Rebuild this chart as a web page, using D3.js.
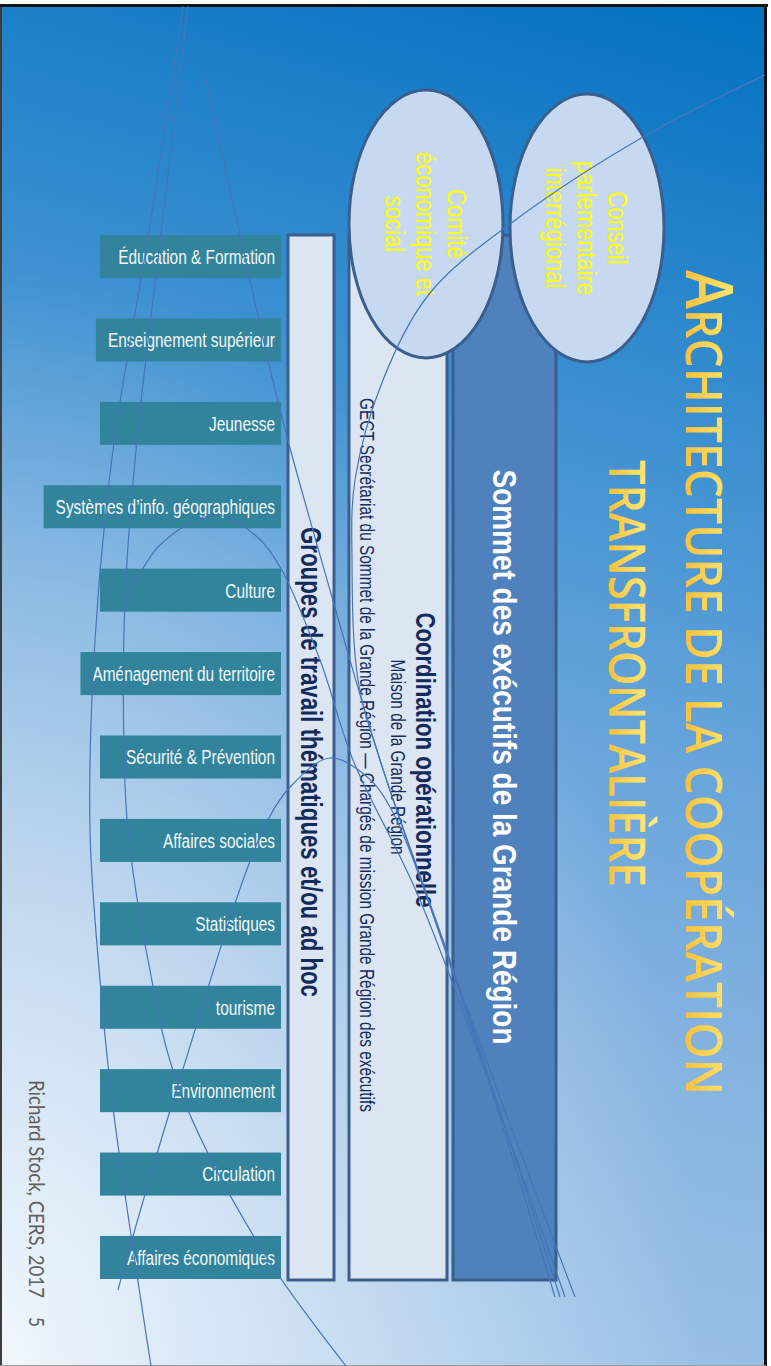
<!DOCTYPE html>
<html>
<head>
<meta charset="utf-8">
<script src="https://cdn.jsdelivr.net/npm/d3@7/dist/d3.min.js"></script>
<style>
  body { margin: 0; background: #fff; }
  svg { display: block; }
</style>
</head>
<body>
<svg class="slide"></svg>
<script>
/* Architecture de la coopération transfrontalière (slide turned 90°) */
const width = 771, height = 1366

const titleLines = ["Architecture de la coopération", "transfrontalière"]

const groupes = ["Éducation & Formation", "Enseignement supérieur", "Jeunesse",
    "Systèmes d’info. géographiques", "Culture", "Aménagement du territoire",
    "Sécurité & Prévention", "Affaires sociales", "Statistiques", "tourisme",
    "Environnement", "Circulation", "Affaires économiques"]

const colonnes = ["Groupes de travail thématiques et/ou ad hoc",
    "Coordination opérationnelle",
    "Sommet des exécutifs de la Grande Région"]

const coordination = ["Maison de la Grande Région",
    "GECT Secrétariat du Sommet de la Grande Région — Chargés de mission Grande Région des exécutifs"]

const comite = ["Comité", "économique et", "social"]
const conseil = ["Conseil", "parlementaire", "interrégional"]

const credit = ["Richard Stock, CERS, 2017", "5"]

// thin curves of the theme background
const flowLines = [
    [[183, 6], [150, 225], [113, 450], [95, 640], [90, 830], [100, 980], [112, 1100], [151, 1366]],
    [[188, 6], [162, 225], [136, 450], [125, 600], [124, 750], [128, 830], [148, 960], [178, 1085], [262, 1250], [346, 1366]],
    [[205, 75], [246, 262], [280, 410], [330, 590], [380, 760], [455, 975], [560, 1297]],
    [[118, 1290], [131, 1243], [178, 1085], [263, 830], [292, 785], [330, 758], [365, 775], [390, 807], [453, 973], [555, 1297]],
    [[125, 603], [160, 545], [215, 515], [255, 535], [280, 567], [320, 660], [353, 760], [420, 900], [565, 1297]],
    [[765, 75], [643, 137], [510, 224], [430, 293], [383, 380], [355, 480], [352, 560], [358, 680], [380, 760], [455, 975], [575, 1297]]
]

const svg = d3.select("svg.slide")
    .attr("width", width)
    .attr("height", height)

const defs = svg.append("defs")

const bg = defs.append("linearGradient").attr("id", "bg")
    .attr("gradientUnits", "userSpaceOnUse")
    .attr("x1", 771).attr("y1", 0).attr("x2", 400).attr("y2", 1366)
bg.selectAll("stop")
    .data([[0, "#0070c0"], [0.3, "#3a8fd0"], [0.51, "#63a3da"], [0.73, "#85b3e0"], [1, "#9ec4e8"]])
    .enter().append("stop")
    .attr("offset", d => d[0])
    .attr("stop-color", d => d[1])

const glow = defs.append("radialGradient").attr("id", "glow")
    .attr("gradientUnits", "userSpaceOnUse")
    .attr("cx", 0).attr("cy", 0).attr("r", 1)
    .attr("gradientTransform", "translate(0,1366) scale(700,1100)")
glow.selectAll("stop")
    .data([[0, 0.85], [1, 0]])
    .enter().append("stop")
    .attr("offset", d => d[0])
    .attr("stop-color", "#ffffff")
    .attr("stop-opacity", d => d[1])

const gold = defs.append("linearGradient").attr("id", "gold")
    .attr("x1", 0).attr("y1", 0).attr("x2", 0).attr("y2", 1)
gold.selectAll("stop")
    .data([[0, "#fff68a"], [0.5, "#fdd65a"], [1, "#f4b02a"]])
    .enter().append("stop")
    .attr("offset", d => d[0])
    .attr("stop-color", d => d[1])

// background + frame
svg.append("rect").attr("x", 1).attr("y", 5).attr("width", 765).attr("height", 1360).attr("fill", "url(#bg)")
svg.append("rect").attr("x", 1).attr("y", 5).attr("width", 765).attr("height", 1360).attr("fill", "url(#glow)")
svg.append("line").attr("x1", 1).attr("x2", 1).attr("y1", 5).attr("y2", 1366).attr("stroke", "#3d3d3d").attr("stroke-width", 2)
svg.append("line").attr("x1", 0).attr("x2", 768).attr("y1", 5.5).attr("y2", 5.5).attr("stroke", "#111").attr("stroke-width", 3)
svg.append("line").attr("x1", 765.5).attr("x2", 765.5).attr("y1", 5).attr("y2", 1366).attr("stroke", "#111").attr("stroke-width", 3)
svg.append("line").attr("x1", 0).attr("x2", 766).attr("y1", 1365.5).attr("y2", 1365.5).attr("stroke", "#9a9a9a").attr("stroke-width", 1)

const sans = "'Liberation Sans', Arial, sans-serif"
const narrow = 0.77

// title, read top to bottom
const title = svg.append("g").attr("fill", "url(#gold)")
    .attr("font-family", "'Open Sans', Lato, sans-serif")
    .attr("font-weight", 600)

const t1 = title.append("text")
    .attr("transform", "translate(686,682.5) rotate(90)")
    .attr("text-anchor", "middle")
    .attr("textLength", 825)
    .attr("lengthAdjust", "spacingAndGlyphs")
const up1 = titleLines[0].toUpperCase()
t1.append("tspan").attr("font-size", 65).text(up1[0])
t1.append("tspan").attr("font-size", 51).text(up1.slice(1))

title.append("text")
    .attr("transform", "translate(609,673.5) rotate(90)")
    .attr("text-anchor", "middle")
    .attr("textLength", 427)
    .attr("lengthAdjust", "spacingAndGlyphs")
    .attr("font-size", 51)
    .text(titleLines[1].toUpperCase())

// the three columns
const colX = [[288, 334], [349, 447], [453, 556]]
const colFill = ["#dce6f2", "#dce6f2", "#4f81bd"]
const colTop = 235, colBottom = 1280

svg.append("g").selectAll("rect")
    .data(colonnes)
    .enter()
    .append("rect")
    .attr("x", (d, i) => colX[i][0])
    .attr("y", colTop)
    .attr("width", (d, i) => colX[i][1] - colX[i][0])
    .attr("height", colBottom - colTop)
    .attr("fill", (d, i) => colFill[i])
    .attr("stroke", "#3a5f8e")
    .attr("stroke-width", 3)

function vtext(txt, cx, cy, size, len, weight, color) {
    return svg.append("text")
        .attr("transform", "translate(" + cx + "," + cy + ") rotate(90)")
        .attr("text-anchor", "middle")
        .attr("dy", "0.35em")
        .attr("font-family", sans)
        .attr("font-size", size)
        .attr("font-weight", weight)
        .attr("fill", color)
        .attr("textLength", len)
        .attr("lengthAdjust", "spacingAndGlyphs")
        .text(txt)
}

const navy = "#132a5c"
vtext(colonnes[0], 311, 762, 29, 470, "bold", navy)
vtext(colonnes[1], 426, 760, 28.5, 295, "bold", navy)
vtext(coordination[0], 397.5, 757, 20, 195, "normal", navy)
vtext(coordination[1], 367.5, 755, 20.5, 714, "normal", navy)
vtext(colonnes[2], 504.5, 757, 34, 575, "bold", "#ffffff")

// ovals on top of the columns
const ovalPos = [[426, 224], [587, 228]]
const oval = svg.append("g").selectAll("g")
    .data([comite, conseil])
    .enter()
    .append("g")
    .attr("transform", (d, i) => "translate(" + ovalPos[i][0] + "," + ovalPos[i][1] + ")")

oval.append("ellipse")
    .attr("rx", 77)
    .attr("ry", 134)
    .attr("fill", "#c6d9f1")
    .attr("stroke", "#3a5f8e")
    .attr("stroke-width", 3)

oval.selectAll("text")
    .data(d => d)
    .enter()
    .append("text")
    .attr("transform", (d, i) => "rotate(90) translate(0," + (i - 1) * 31 + ") scale(" + narrow + ",1)")
    .attr("text-anchor", "middle")
    .attr("dy", "0.35em")
    .attr("font-family", sans)
    .attr("font-size", 28.5)
    .attr("fill", "#ffff00")
    .text(d => d)

// working groups on the left
const boxNarrow = 0.735
const y = d3.scaleBand()
    .domain(groupes)
    .range([235, 1279])
    .paddingInner(0.484)

const item = svg.append("g").selectAll("g")
    .data(groupes)
    .enter()
    .append("g")

item.append("rect")
    .attr("y", d => y(d))
    .attr("height", y.bandwidth())
    .attr("fill", "#31849b")

item.append("text")
    .attr("transform", d => "translate(275," + (y(d) + y.bandwidth() / 2) + ") scale(" + boxNarrow + ",1)")
    .attr("text-anchor", "end")
    .attr("dy", "0.35em")
    .attr("font-family", sans)
    .attr("font-size", 21)
    .attr("fill", "#f4f7f8")
    .text(d => d)

item.each(function () {
    const g = d3.select(this)
    const w = g.select("text").node().getComputedTextLength() * boxNarrow
    const x0 = Math.min(100, 275 - w - 12)
    g.select("rect").attr("x", x0).attr("width", 281 - x0)
})

// credit line
vtext(credit[0], 37, 1189, 22, 218, "normal", "#5f5f5f").attr("font-family", "Lato, sans-serif")
vtext(credit[1], 37, 1322, 22, 10, "normal", "#5f5f5f").attr("font-family", "Lato, sans-serif")

// theme curves drawn over everything
const flow = d3.line().curve(d3.curveCatmullRom.alpha(0.5))
svg.append("g").selectAll("path")
    .data(flowLines)
    .enter()
    .append("path")
    .attr("d", flow)
    .attr("fill", "none")
    .attr("stroke", "#4675b8")
    .attr("stroke-width", 1.2)
</script>
</body>
</html>
